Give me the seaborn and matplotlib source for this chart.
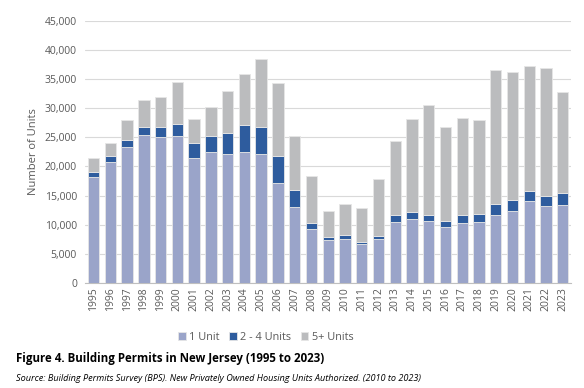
import numpy as np
import pandas as pd
import matplotlib
matplotlib.use("Agg")
import matplotlib.pyplot as plt
import seaborn as sns

years = [str(y) for y in range(1995, 2024)]
one_unit = [18200, 20800, 23400, 25400, 25000, 25200, 21400, 22400, 22100, 22400,
            22200, 17100, 13100, 9200, 7300, 7500, 6600, 7500, 10400, 11000,
            10600, 9600, 10200, 10400, 11600, 12400, 14000, 13200, 13400]
two_four = [800, 1000, 1100, 1400, 1800, 2100, 2600, 2800, 3600, 4700,
            4600, 4700, 2900, 1100, 500, 800, 500, 600, 1200, 1100,
            1000, 1100, 1400, 1500, 1900, 1800, 1700, 1800, 2000]
five_plus = [2400, 2300, 3500, 4600, 5100, 7200, 4200, 5100, 7300, 8800,
             11700, 12500, 9300, 8000, 4500, 5200, 5800, 9800, 12700, 16100,
             19000, 16100, 16800, 16100, 23100, 22000, 21500, 22000, 17400]

series = ["1 Unit", "2 - 4 Units", "5+ Units"]
colors = ["#9aa4c9", "#2e5c9e", "#bbbcbe"]

sns.set_theme(style="white")
plt.rcParams["font.family"] = ["Open Sans", "DejaVu Sans"]

df = pd.DataFrame({"year": years, "one": one_unit, "two": two_four, "five": five_plus})

fig = plt.figure(figsize=(5.84, 3.88), dpi=100)
ax = fig.add_axes([0.146, 0.271, 0.832, 0.675])

bottom = np.zeros(len(years))
for col, name, c in zip(["one", "two", "five"], series, colors):
    sns.barplot(data=df, x="year", y=col, color=c, saturation=1, bottom=bottom, width=0.68,
                edgecolor="#e6e6e6", linewidth=0.6, label=name, ax=ax, zorder=3)
    bottom = bottom + df[col].values

ax.set_ylim(0, 45000)
ax.set_yticks(range(0, 45001, 5000))
ax.set_yticklabels([f"{v:,}" for v in range(0, 45001, 5000)], fontsize=7.5, color="#595959")
ax.yaxis.grid(True, color="#d9d9d9", linewidth=0.8, zorder=0)
ax.set_xlim(-0.5, len(years) - 0.5)
ax.set_xticks(range(len(years)))
ax.set_xticklabels(years, rotation=90, fontsize=7.5, color="#595959")
ax.set_xticks(np.arange(-0.5, len(years), 1), minor=True)
ax.tick_params(axis="x", which="major", length=0, pad=3)
ax.tick_params(axis="x", which="minor", length=4, color="#bfbfbf", width=0.8)
ax.tick_params(axis="y", length=0, pad=6)
ax.set_xlabel("")
ax.set_ylabel("Number of Units", fontsize=8, color="#595959", labelpad=4)
for s in ["top", "right", "left"]:
    ax.spines[s].set_visible(False)
ax.spines["bottom"].set_color("#bfbfbf")
ax.spines["bottom"].set_linewidth(0.8)

handles, labels = ax.get_legend_handles_labels()
if ax.legend_:
    ax.legend_.remove()
fig.legend(handles, labels, loc="center", bbox_to_anchor=(0.455, 0.131), ncol=3,
           frameon=False, fontsize=7.8, handlelength=0.7, handleheight=0.7,
           handletextpad=0.3, columnspacing=0.9, labelcolor="#595959")

fig.text(0.028, 0.077, "Figure 4. Building Permits in New Jersey (1995 to 2023)",
         fontsize=8.3, fontweight="bold", color="black", va="center")
fig.text(0.028, 0.025, "Source: Building Permits Survey (BPS). New Privately Owned Housing Units Authorized. (2010 to 2023)",
         fontsize=6.6, style="italic", color="black", va="center")

fig.savefig("out.png", dpi=100)
